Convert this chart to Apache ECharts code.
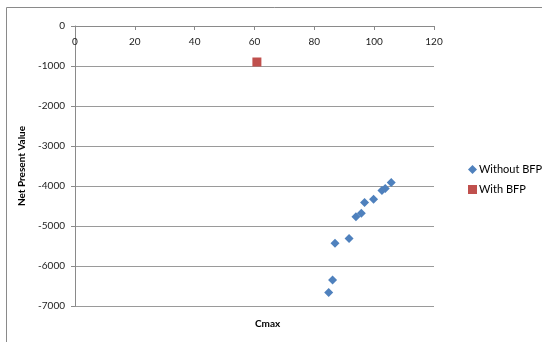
<!DOCTYPE html>
<html>
<head>
<meta charset="utf-8">
<script src="https://cdn.jsdelivr.net/npm/echarts@6/dist/echarts.min.js"></script>
<style>
  html, body { margin: 0; padding: 0; background: #fff; }
  #chart { width: 542px; height: 342px; }
</style>
</head>
<body>
<div id="chart"></div>
<script>
// Cmax vs. net present value, with and without BFP
const withoutBfpCmax = [105.7, 103.7, 102.6, 99.8, 96.8, 95.7, 93.9, 91.6, 86.9, 86.1, 84.8];
const withoutBfpNpv  = [-3910, -4060, -4110, -4330, -4410, -4680, -4770, -5310, -5430, -6350, -6660];
const withBfpCmax = [60.8];
const withBfpNpv  = [-900];
const xTicks = [0, 20, 40, 60, 80, 100, 120];
const yTicks = [0, -1000, -2000, -3000, -4000, -5000, -6000, -7000];

const pairs = (xs, ys) => xs.map((x, i) => [x, ys[i]]);
const font = 'Lato, "Open Sans", sans-serif';

const chart = echarts.init(document.getElementById('chart'), null, { renderer: 'canvas' });
chart.setOption({
  animation: false,
  backgroundColor: '#fff',
  textStyle: { fontFamily: font },
  graphic: [
    { type: 'rect', shape: { x: 6.5, y: 7.5, width: 700, height: 500 },
      style: { fill: 'none', stroke: '#8a8a8a', lineWidth: 1 }, silent: true },
    { type: 'text', left: 255, top: 319,
      style: { text: 'Cmax', font: 'bold 10px ' + font, fill: '#000' } }
  ],
  grid: { left: 75, top: 26, right: 108, bottom: 36, containLabel: false },
  legend: {
    orient: 'vertical', left: 463, top: 159, itemGap: 9,
    itemWidth: 9, itemHeight: 9,
    textStyle: { fontSize: 11, color: '#000', fontFamily: font, padding: [0, 0, 0, -3] },
    data: [
      { name: 'Without BFP', icon: 'diamond' },
      { name: 'With BFP', icon: 'rect' }
    ]
  },
  xAxis: {
    type: 'value', position: 'top', min: xTicks[0], max: xTicks[xTicks.length - 1], interval: 20,
    axisLine: { show: true, onZero: false, lineStyle: { color: '#8a8a8a' } },
    axisTick: { show: true, inside: true, length: 4, lineStyle: { color: '#8a8a8a' } },
    axisLabel: { inside: true, margin: 11, fontSize: 10, color: '#222', fontFamily: font },
    splitLine: { show: false }
  },
  yAxis: {
    type: 'value', min: yTicks[yTicks.length - 1], max: yTicks[0], interval: 1000,
    name: 'Net Present Value', nameLocation: 'middle', nameGap: 45, nameRotate: 90,
    nameTextStyle: { fontSize: 10, fontWeight: 'bold', color: '#000', fontFamily: font },
    axisLine: { show: true, lineStyle: { color: '#8a8a8a' } },
    axisTick: { show: true, length: 4, lineStyle: { color: '#8a8a8a' } },
    axisLabel: { margin: 10, fontSize: 10, color: '#222', fontFamily: font,
      formatter: v => String(v) },
    splitLine: { show: true, lineStyle: { color: '#9a9a9a', width: 1 } }
  },
  series: [
    {
      name: 'Without BFP', type: 'scatter', symbol: 'diamond', symbolSize: 9,
      itemStyle: { color: '#4F81BD', opacity: 1 },
      data: pairs(withoutBfpCmax, withoutBfpNpv)
    },
    {
      name: 'With BFP', type: 'scatter', symbol: 'rect', symbolSize: 9,
      itemStyle: { color: '#C0504D', opacity: 1 },
      data: pairs(withBfpCmax, withBfpNpv)
    }
  ]
});
</script>
</body>
</html>
